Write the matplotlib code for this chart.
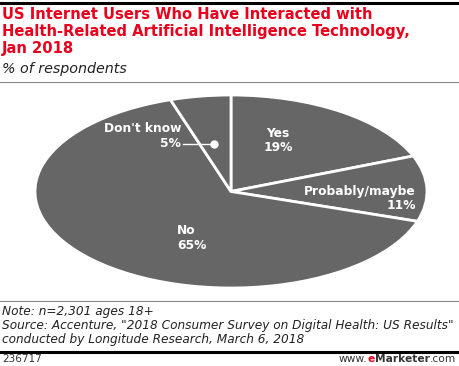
import numpy as np
import matplotlib as mpl
import matplotlib.pyplot as plt
from matplotlib.lines import Line2D

mpl.rcParams['font.family'] = ['DejaVu Sans']

labels = ['Yes', 'Probably/maybe', 'No', "Don't know"]
shares = [19, 11, 65, 5]

title = ('US Internet Users Who Have Interacted with\n'
         'Health-Related Artificial Intelligence Technology,\n'
         'Jan 2018')
subtitle = '% of respondents'
note = ('Note: n=2,301 ages 18+\n'
        'Source: Accenture, "2018 Consumer Survey on Digital Health: US Results"\n'
        'conducted by Longitude Research, March 6, 2018')
chart_id = '236717'

W, H = 460, 366
fig = plt.figure(figsize=(W / 100, H / 100), dpi=100)


def fx(px):
    return px / W


def fy(py):
    return 1 - py / H


# pie area (stretched ellipse)
ax = fig.add_axes([fx(35), fy(288), fx(392), (288 - 95) / H])
wedges, _ = ax.pie(shares, startangle=90, counterclock=False,
                   colors=['#666666'] * 4,
                   wedgeprops=dict(edgecolor='white', linewidth=2))
ax.set_xlim(-1, 1)
ax.set_ylim(-1, 1)
ax.set_aspect('auto')
ax.axis('off')

lab_kw = dict(color='white', fontweight='bold', fontsize=8.8, linespacing=1.15)
ax.text(0.24, 0.53, '%s\n%d%%' % (labels[0], shares[0]), ha='center', va='center', **lab_kw)
ax.text(0.944, -0.07, '%s\n%d%%' % (labels[1], shares[1]), ha='right', va='center',
        multialignment='right', **lab_kw)
ax.text(-0.275, -0.48, '%s\n%d%%' % (labels[2], shares[2]), ha='left', va='center', **lab_kw)
ax.text(-0.255, 0.575, '%s\n%d%%' % (labels[3], shares[3]), ha='right', va='center',
        multialignment='right', **lab_kw)
ax.plot([-0.245, -0.087], [0.49, 0.49], color='white', lw=1)
ax.plot([-0.087], [0.49], 'o', color='white', ms=5)

# rules
fig.add_artist(Line2D([0, 1], [fy(3), fy(3)], color='black', lw=2.2))
fig.add_artist(Line2D([0, 1], [fy(82), fy(82)], color='#888888', lw=0.8))
fig.add_artist(Line2D([0, 1], [fy(301), fy(301)], color='#888888', lw=0.8))
fig.add_artist(Line2D([0, 1], [fy(352), fy(352)], color='black', lw=2.2))

# texts
fig.text(fx(2), fy(7), title, color='#e8001c', fontweight='bold', fontsize=10.6,
         va='top', ha='left', linespacing=1.16)
fig.text(fx(2), fy(62), subtitle, fontstyle='italic', fontsize=10.3, va='top', ha='left',
         color='#222222')
fig.text(fx(2), fy(305), note, fontstyle='italic', fontsize=8.7, va='top', ha='left',
         color='#222222', linespacing=1.1)
fig.text(fx(2), fy(364), chart_id, fontsize=7.5, va='bottom', ha='left', color='#333333')

# footer brand: www.eMarketer.com built right to left
fig.canvas.draw()
r = fig.canvas.get_renderer()
x = fx(456)
parts = [('.com', 'normal', '#333333'), ('Marketer', 'bold', '#333333'),
         ('e', 'bold', '#e8001c'), ('www.', 'normal', '#333333')]
for s, w, c in parts:
    t = fig.text(x, fy(364), s, fontsize=7.7, fontweight=w, color=c, ha='right', va='bottom')
    bb = t.get_window_extent(renderer=r)
    x = bb.x0 / W

fig.savefig('out.png', dpi=100)
